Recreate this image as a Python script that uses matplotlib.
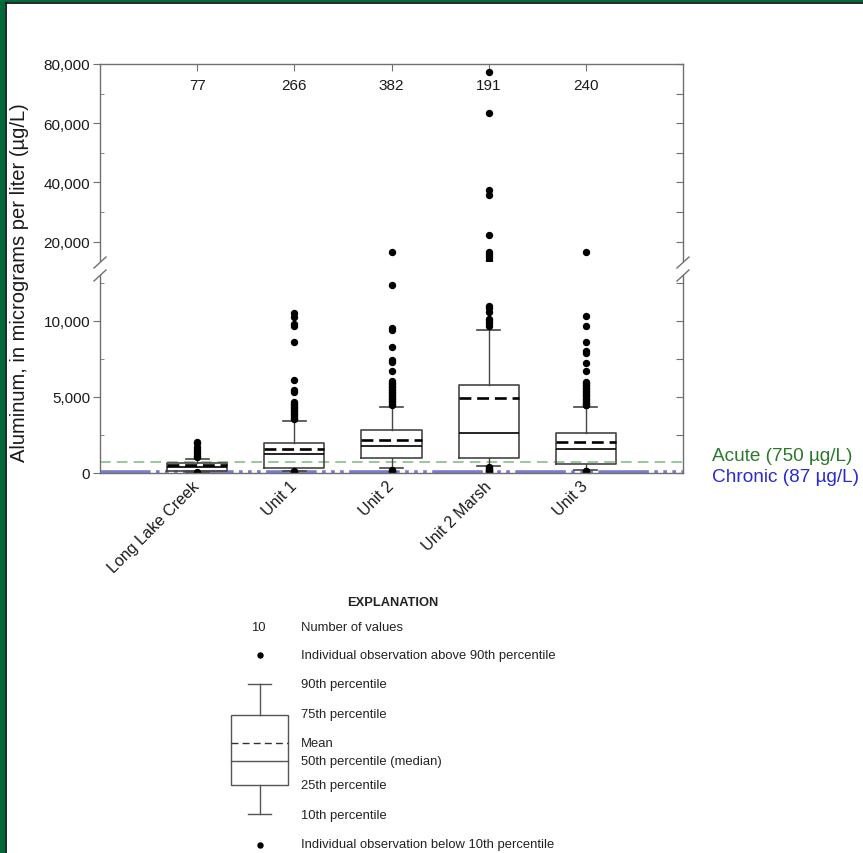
import matplotlib
matplotlib.use("Agg")
import matplotlib.pyplot as plt
from matplotlib.ticker import FuncFormatter
from matplotlib.patches import Rectangle
from matplotlib.lines import Line2D

plt.rcParams['font.family'] = ['Liberation Sans', 'DejaVu Sans']

# ---------------- data ----------------
categories = ["Long Lake Creek", "Unit 1", "Unit 2", "Unit 2 Marsh", "Unit 3"]
n_values = [77, 266, 382, 191, 240]
p10 = [70, 150, 310, 440, 220]
p25 = [150, 330, 965, 990, 590]
median = [380, 1250, 1780, 2610, 1580]
mean = [520, 1560, 2170, 4930, 2060]
p75 = [680, 1975, 2850, 5790, 2630]
p90 = [950, 3440, 4320, 9400, 4360]
high_obs = [
    [2050, 1950, 1700, 1500, 1350, 1250, 1150, 1050],
    [10500, 10250, 9800, 9650, 8650, 6100, 5450, 5300, 4650, 4550, 4450, 4350,
     4250, 4150, 4050, 3950, 3850, 3750, 3650, 3550],
    [16500, 12350, 9550, 9400, 8300, 7450, 7300, 6700, 6050, 5950, 5850, 5750,
     5650, 5550, 5450, 5350, 5250, 5150, 5050, 4950, 4850, 4750, 4650, 4550, 4450],
    [77400, 63400, 37300, 35700, 22300, 16400, 15700, 14800, 13900,
     11000, 10850, 10600, 10150, 10000, 9850, 9700],
    [16600, 10300, 9700, 8600, 8050, 7900, 7250, 6700, 6000, 5900, 5800, 5700,
     5600, 5500, 5400, 5300, 5200, 5100, 5000, 4900, 4800, 4700, 4600, 4500, 4450],
]
low_obs = [
    [40, 20, 10],
    [110, 80, 50, 30, 10],
    [220, 160, 110, 60],
    [380, 320, 260, 200, 150, 100, 60, 30],
    [160, 110, 60, 30],
]
acute = 750
chronic = 87

upper_range = (13500, 80000)
lower_range = (0, 13000)
upper_yticks = [20000, 40000, 60000, 80000]
upper_minor = [30000, 50000, 70000]
lower_yticks = [0, 5000, 10000]
lower_minor = [2500, 7500, 12500]

# ---------------- figure ----------------
W, H = 863, 854
fig = plt.figure(figsize=(W / 100, H / 100), dpi=100)
fig.patch.set_facecolor('white')

def fbox(x0, y0, x1, y1):
    return [x0 / W, 1 - y1 / H, (x1 - x0) / W, (y1 - y0) / H]

ax_up = fig.add_axes(fbox(100, 65, 683, 262))
ax_lo = fig.add_axes(fbox(100, 276.4, 683, 474))

spine_col = '#707070'
box_col = '#454545'
positions = list(range(1, len(categories) + 1))

for ax, (lo, hi) in ((ax_up, upper_range), (ax_lo, lower_range)):
    stats = []
    for i, c in enumerate(categories):
        fl = [v for v in high_obs[i] + low_obs[i] if lo <= v <= hi]
        stats.append(dict(label=c, med=median[i], q1=p25[i], q3=p75[i],
                          whislo=p10[i], whishi=p90[i], mean=mean[i], fliers=fl))
    ax.bxp(stats, positions=positions, widths=0.62, capwidths=0.24,
           showmeans=True, meanline=True, patch_artist=False,
           boxprops=dict(color=box_col, linewidth=1.2),
           whiskerprops=dict(color=box_col, linewidth=1.0),
           capprops=dict(color=box_col, linewidth=1.2),
           medianprops=dict(color='black', linewidth=1.2),
           meanprops=dict(color='black', linewidth=1.9, linestyle=(0, (4.5, 2.2))),
           flierprops=dict(marker='o', markersize=4.3, markerfacecolor='black',
                           markeredgecolor='black', linestyle='none'))
    ax.axhline(acute, color='#7fb87f', linewidth=1.1, linestyle=(0, (7, 4)), zorder=1)
    ax.axhline(chronic, color='#7a7ad2', linewidth=2.6,
               linestyle=(0, (14, 1.5, 1, 1.5, 1, 1.5, 1, 1.5)), zorder=1)
    ax.set_xlim(0, 6)
    for s in ax.spines.values():
        s.set_color(spine_col)
        s.set_linewidth(1.0)
    fmt = FuncFormatter(lambda v, p: f"{int(v):,}")
    ax.yaxis.set_major_formatter(fmt)
    ax.tick_params(axis='y', which='major', direction='out', length=5,
                   color=spine_col, labelsize=11, pad=2, labelcolor='#1a1a1a')
    ax.tick_params(axis='y', which='minor', direction='in', length=3, color=spine_col)

ax_up.set_ylim(*upper_range)
ax_up.set_yticks(upper_yticks)
ax_up.set_yticks(upper_minor, minor=True)
ax_up.spines['bottom'].set_visible(False)
ax_up.set_xticks(positions)
ax_up.tick_params(axis='x', which='both', top=True, bottom=False, labeltop=False,
                  labelbottom=False, direction='in', length=5, color=spine_col)

ax_lo.set_ylim(*lower_range)
ax_lo.set_yticks(lower_yticks)
ax_lo.set_yticks(lower_minor, minor=True)
ax_lo.spines['top'].set_visible(False)
ax_lo.set_xticks(positions)
ax_lo.set_xticklabels(categories, rotation=45, ha='right', va='center',
                      rotation_mode='anchor', fontsize=11.5, color='#1a1a1a')
ax_lo.tick_params(axis='x', which='both', bottom=False, top=False, pad=4)

# right-side inward ticks
for ax, ticks in ((ax_up, upper_yticks + upper_minor), (ax_lo, lower_yticks + lower_minor)):
    tw = ax.twinx()
    tw.set_ylim(ax.get_ylim())
    tw.set_yticks(ticks)
    tw.tick_params(axis='y', direction='in', length=5, color=spine_col, labelright=False)
    for s in tw.spines.values():
        s.set_visible(False)

# number of values
for x, n in zip(positions, n_values):
    ax_up.text(x, 0.895, f"{n}", transform=ax_up.get_xaxis_transform(),
               ha='center', va='center', fontsize=11, color='#1a1a1a')

# ---------------- overlay (pixel coordinates) ----------------
ov = fig.add_axes([0, 0, 1, 1], facecolor='none')
ov.set_xlim(0, W)
ov.set_ylim(H, 0)
ov.axis('off')

# frame
ov.add_patch(Rectangle((0, 0), 5, H, color='#006a3a', lw=0))
ov.add_patch(Rectangle((0, 0), W, 3, color='#006a3a', lw=0))
ov.add_line(Line2D([5.5, 5.5], [3.5, H], color='black', lw=1.2))
ov.add_line(Line2D([5.5, W], [3.5, 3.5], color='black', lw=1.2))

# break marks
for xb in (100, 683):
    ov.add_line(Line2D([xb - 6, xb + 6], [269, 258], color=spine_col, lw=1.0))
    ov.add_line(Line2D([xb - 6, xb + 6], [282, 271], color=spine_col, lw=1.0))

# axis label
ov.text(20, 283, "Aluminum, in micrograms per liter (µg/L)", rotation=90,
        ha='center', va='center', fontsize=14.5, color='#1a1a1a')

# criteria labels
ov.text(712, 457, "Acute (750 µg/L)", ha='left', va='center', fontsize=13.7, color='#2a7a2a')
ov.text(712, 478, "Chronic (87 µg/L)", ha='left', va='center', fontsize=13.7, color='#2a2ad0')

# explanation
lc = '#222222'
ov.text(393, 603, "EXPLANATION", ha='center', va='center', fontsize=9.3,
        fontweight='bold', color=lc)
ov.text(258, 628, "10", ha='center', va='center', fontsize=9.4, color=lc)
rows = [(628, "Number of values"),
        (656, "Individual observation above 90th percentile"),
        (685, "90th percentile"),
        (715, "75th percentile"),
        (744, "Mean"),
        (762, "50th percentile (median)"),
        (786, "25th percentile"),
        (816, "10th percentile"),
        (845, "Individual observation below 10th percentile")]
for y, t in rows:
    ov.text(301, y, t, ha='left', va='center', fontsize=9.4, color=lc)
ov.plot([259.5], [656], 'o', color='black', markersize=3.6)
ov.plot([259.5], [845.5], 'o', color='black', markersize=3.6)
ov.add_patch(Rectangle((231, 715.5), 57, 70, fill=False, edgecolor='#555555', lw=1.0))
ov.add_line(Line2D([260, 260], [685, 715.5], color='#555555', lw=1.0))
ov.add_line(Line2D([260, 260], [785.5, 815], color='#555555', lw=1.0))
ov.add_line(Line2D([248, 271], [685, 685], color='#555555', lw=1.0))
ov.add_line(Line2D([248, 271], [815, 815], color='#555555', lw=1.0))
ov.add_line(Line2D([231, 288], [743.5, 743.5], color='#333333', lw=1.0, linestyle=(0, (5, 3))))
ov.add_line(Line2D([231, 288], [761.5, 761.5], color='#555555', lw=1.0))

fig.savefig("out.png", dpi=100)
